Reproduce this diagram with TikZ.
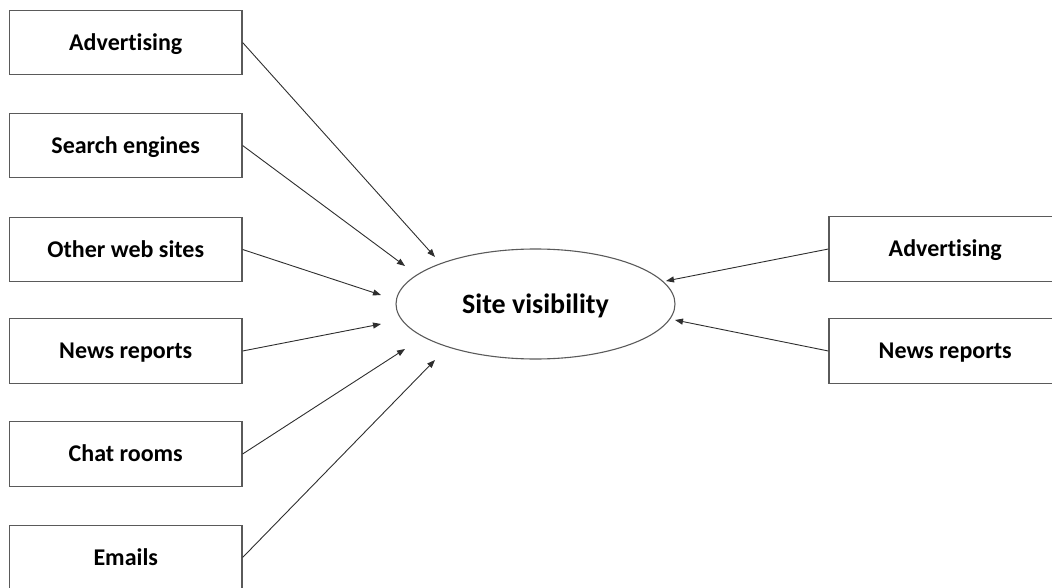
\documentclass[tikz,border=0pt]{standalone}
\usepackage{fontspec}
\setmainfont[Ligatures=NoCommon]{Carlito}
\usetikzlibrary{shapes.geometric,arrows.meta}
\definecolor{boxline}{HTML}{5A5A5A}
\definecolor{arrowline}{HTML}{2E2E2E}
\tikzset{
  source/.style={draw=boxline, line width=1.2pt, fill=white, minimum width=232.5pt,
    minimum height=64.5pt, inner sep=0pt, text height=15.5pt, text depth=0pt,
    font=\fontsize{24}{28}\selectfont\bfseries},
  target/.style={ellipse, draw=boxline, line width=1.1pt, minimum width=279pt,
    minimum height=110pt, inner sep=0pt, text height=18pt, text depth=0pt,
    font=\fontsize{28}{32}\selectfont\bfseries},
  link/.style={draw=arrowline, line width=0.9pt, -{Triangle[length=8pt,width=6pt]}}
}
\begin{document}
\begin{tikzpicture}[x=1pt,y=-1pt]
\useasboundingbox (0,0) rectangle (1052,588);
\clip (0,0) rectangle (1052,588);

% sources on the left
\node[source] (adv)   at (125.75, 42.5) {Advertising};
\node[source] (seng)  at (125.75,145.5) {Search engines};
\node[source] (other) at (125.75,249.5) {Other web sites};
\node[source] (news)  at (125.75,351)   {News reports};
\node[source] (chat)  at (125.75,454)   {Chat rooms};
\node[source] (mail)  at (125.75,557.5) {Emails};

% sources on the right
\node[source] (radv)  at (945.25,249)   {Advertising};
\node[source] (rnews) at (945.25,351)   {News reports};

% central node
\node[target] (vis) at (535.5,304) {Site visibility};

% arrow tips around the ellipse
\coordinate (tadv)   at (435,257);
\coordinate (tseng)  at (405,266);
\coordinate (tother) at (381,295);
\coordinate (tnews)  at (381,324);
\coordinate (tchat)  at (405,349);
\coordinate (tmail)  at (435,360);
\coordinate (tradv)  at (666,281);
\coordinate (trnews) at (675,320);

\draw[link] (adv.east)   -- (tadv);
\draw[link] (seng.east)  -- (tseng);
\draw[link] (other.east) -- (tother);
\draw[link] (news.east)  -- (tnews);
\draw[link] (chat.east)  -- (tchat);
\draw[link] (mail.east)  -- (tmail);
\draw[link] (radv.west)  -- (tradv);
\draw[link] (rnews.west) -- (trnews);
\end{tikzpicture}
\end{document}
